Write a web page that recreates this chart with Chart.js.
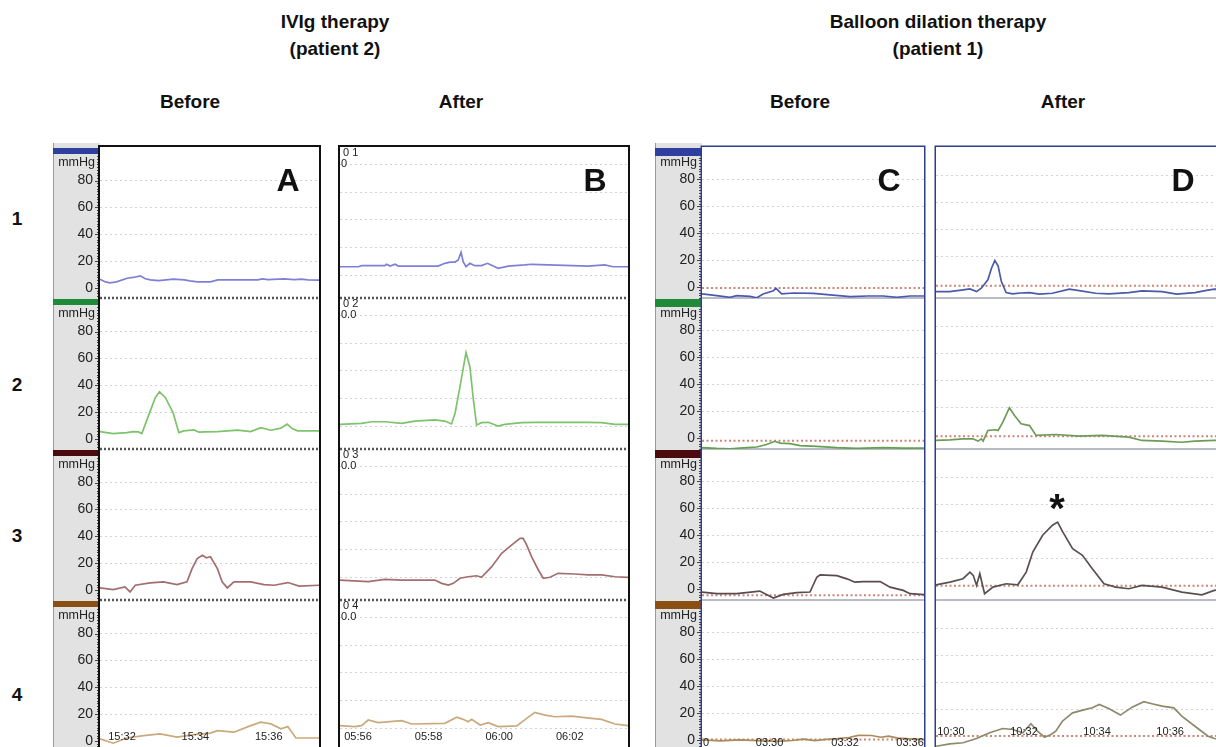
<!DOCTYPE html>
<html>
<head>
<meta charset="utf-8">
<script src="https://cdn.jsdelivr.net/npm/chart.js@4/dist/chart.umd.min.js"></script>
<style>
  body { margin: 0; width: 1216px; height: 747px; overflow: hidden; background: #fff; position: relative;
         font-family: "Liberation Sans", Arial, sans-serif; }
  .t { position: absolute; font-weight: bold; font-size: 19px; color: #111; white-space: nowrap; transform: translate(-50%, -50%); }
  .big { font-size: 32px; }
  .star { font-size: 40px; }
  canvas { position: absolute; }
</style>
</head>
<body>
<div class="t" style="left:335px;top:22px">IVIg therapy</div>
<div class="t" style="left:335px;top:49px">(patient 2)</div>
<div class="t" style="left:938px;top:22px">Balloon dilation therapy</div>
<div class="t" style="left:938px;top:49px">(patient 1)</div>
<div class="t" style="left:190px;top:102px">Before</div>
<div class="t" style="left:461px;top:102px">After</div>
<div class="t" style="left:800px;top:102px">Before</div>
<div class="t" style="left:1063px;top:102px">After</div>
<div class="t" style="left:17px;top:219px">1</div>
<div class="t" style="left:17px;top:385px">2</div>
<div class="t" style="left:17px;top:536px">3</div>
<div class="t" style="left:17px;top:695px">4</div>

<canvas id="panelA" width="270" height="614" style="left:52px;top:141px"></canvas>
<canvas id="panelB" width="294" height="614" style="left:337px;top:141px"></canvas>
<canvas id="panelC" width="273" height="614" style="left:654px;top:141px"></canvas>
<canvas id="panelD" width="300" height="614" style="left:933px;top:141px"></canvas>

<div class="t big" style="left:288px;top:180px">A</div>
<div class="t big" style="left:595px;top:180px">B</div>
<div class="t big" style="left:889px;top:180px">C</div>
<div class="t big" style="left:1183px;top:180px">D</div>
<div class="t star" style="left:1057px;top:508px">*</div>

<script>
// time in minutes past the hour, pressure in mmHg; one trace per channel (1..4)

// A: IVIg before (15:31 - 15:37)
const aTimeTicks = [32, 34, 36];
const aTimeLabels = ['15:32', '15:34', '15:36'];
const aTrace1 = [[31.40,6.5],[31.55,4.5],[31.67,3.8],[31.85,4.5],[32.14,7.2],[32.30,7.8],[32.50,9.0],[32.62,7.0],[32.77,6.0],[33.0,5.5],[33.40,6.5],[33.7,6.0],[33.85,5.2],[34.06,4.5],[34.41,4.5],[34.61,6.0],[35.2,6.0],[35.70,6.0],[35.82,6.8],[35.98,6.2],[36.41,6.8],[36.7,6.2],[36.9,6.6],[37.07,6.0],[37.37,5.8]];
const aTrace2 = [[31.40,5.5],[31.76,4.0],[32.13,4.7],[32.30,5.5],[32.45,5.2],[32.54,4.0],[32.72,17.2],[32.91,30.9],[33.02,35.1],[33.18,30.9],[33.39,19.7],[33.55,4.7],[33.68,6.0],[33.96,6.7],[34.10,5.0],[34.23,5.2],[34.60,5.5],[35.15,6.5],[35.51,5.5],[35.78,8.4],[36.06,6.5],[36.33,8.0],[36.50,11.0],[36.65,7.5],[36.79,6.0],[37.37,6.0]];
const aTrace3 = [[31.40,1.5],[31.76,0.2],[32.08,2.2],[32.22,-1.5],[32.36,3.5],[32.77,5.2],[33.13,6.0],[33.50,4.0],[33.77,6.0],[33.91,15.9],[34.05,23.4],[34.19,25.9],[34.30,24.0],[34.41,24.7],[34.60,15.9],[34.73,6.0],[34.87,1.5],[35.05,6.0],[35.51,6.0],[35.87,4.0],[36.15,3.5],[36.52,5.5],[36.83,2.8],[37.37,3.5]];
const aTrace4 = [[31.40,1.5],[31.76,-1.7],[32.13,2.2],[32.59,4.0],[33.04,5.2],[33.50,2.8],[33.96,4.7],[34.41,5.8],[34.60,7.7],[35.05,6.5],[35.51,11.4],[35.78,14.0],[36.06,12.7],[36.33,9.0],[36.52,10.7],[36.74,2.2],[37.37,2.2]];

// B: IVIg after (05:55 - 06:03)
const bTimeTicks = [56, 58, 60, 62];
const bTimeLabels = ['05:56', '05:58', '06:00', '06:02'];
const bChannelTags = [['0 1', '0'], ['0 2', '0.0'], ['0 3', '0.0'], ['0 4', '0.0']];
const bTrace1 = [[55.49,6.0],[56.01,6.0],[56.10,6.8],[56.76,6.8],[56.81,7.8],[56.91,6.5],[57.05,7.8],[57.14,6.5],[58.27,6.5],[58.46,8.5],[58.61,9.4],[58.75,9.4],[58.84,10.9],[58.92,16.5],[58.98,9.7],[59.06,6.0],[59.17,8.5],[59.31,6.8],[59.50,6.8],[59.67,8.5],[59.97,4.9],[60.26,6.5],[60.73,7.3],[60.92,7.8],[61.39,7.3],[62.52,6.5],[62.99,7.3],[63.23,6.0],[63.65,6.0]];
const bTrace2 = [[55.49,1.2],[56.10,1.9],[56.39,3.1],[56.76,3.1],[57.24,1.9],[57.61,3.6],[58.18,4.4],[58.46,3.6],[58.65,1.5],[58.75,9.2],[58.89,28.6],[59.06,53.3],[59.17,43.1],[59.27,18.9],[59.36,0.7],[59.50,2.4],[59.69,2.7],[59.97,0.0],[60.16,1.2],[60.64,2.4],[61.01,2.7],[62.52,2.7],[62.90,2.4],[63.28,1.2],[63.65,1.2]];
const bTrace3 = [[55.49,-2.2],[56.29,-3.4],[56.76,-1.7],[57.24,-2.2],[58.18,-2.2],[58.37,-4.6],[58.56,-5.8],[58.70,-4.6],[58.89,-0.9],[59.12,0.2],[59.36,0.9],[59.50,-0.2],[59.79,7.5],[60.07,17.2],[60.35,23.2],[60.59,28.1],[60.68,28.1],[60.78,23.2],[60.92,14.7],[61.11,5.1],[61.25,-0.9],[61.44,-0.2],[61.67,2.7],[62.14,2.2],[62.52,1.5],[62.90,1.5],[63.28,0.2],[63.65,-0.2]];
const bTrace4 = [[55.49,1.7],[55.91,1.0],[56.10,1.7],[56.29,5.8],[56.57,3.9],[57.24,5.3],[57.52,2.9],[58.46,3.4],[58.80,7.8],[58.98,6.3],[59.12,4.6],[59.22,6.3],[59.46,2.2],[59.69,3.9],[59.97,1.0],[60.50,1.5],[60.78,7.0],[61.01,11.4],[61.30,9.4],[61.58,8.2],[62.05,8.7],[62.62,7.0],[62.90,6.3],[63.28,2.9],[63.65,1.7]];

// C: balloon before (03:28 - 03:34)
const cTimeTicks = [28.32, 30, 32, 33.72];
const cTimeLabels = ['0', '03:30', '03:32', '03:36'];
const cBaseline = [-0.6, -1.8, -4.5, 0.5];
const cTrace1 = [[28.21,-5.0],[28.60,-6.3],[28.95,-7.5],[29.13,-6.3],[29.48,-6.8],[29.66,-7.8],[29.83,-5.0],[30.10,-2.6],[30.17,-0.9],[30.32,-5.0],[30.63,-4.3],[31.16,-4.6],[31.60,-5.7],[32.13,-7.0],[32.6,-6.5],[33.01,-6.5],[33.37,-7.5],[33.72,-6.5],[34.09,-6.5]];
const cTrace2 = [[28.21,-7.0],[28.60,-7.6],[28.95,-7.8],[29.30,-7.2],[29.66,-6.5],[29.92,-4.7],[30.14,-2.3],[30.28,-3.6],[30.54,-4.0],[30.81,-5.5],[31.25,-6.0],[31.78,-7.0],[32.31,-7.6],[33.01,-7.0],[33.54,-7.4],[34.09,-7.4]];
const cTrace3 = [[28.21,-2.1],[28.60,-3.3],[29.13,-3.3],[29.74,-1.4],[30.10,-6.5],[30.36,-3.8],[30.72,-2.6],[31.07,-2.1],[31.25,8.9],[31.34,10.7],[31.78,10.1],[32.05,7.7],[32.26,5.2],[32.48,5.7],[32.93,5.7],[33.19,1.5],[33.54,-0.9],[33.72,-3.3],[34.09,-4.0]];
const cTrace4 = [[28.21,0.3],[28.7,-0.5],[29.2,0.2],[29.7,-0.3],[30.2,-0.8],[30.6,-0.2],[30.9,0.8],[31.2,-0.3],[31.5,0.6],[31.8,1.2],[32.1,2.0],[32.35,3.6],[32.7,3.5],[32.95,2.2],[33.15,3.0],[33.4,1.5],[33.7,1.0],[34.09,0.5]];

// D: balloon after (10:29 - 10:37)
const dTimeTicks = [30, 32, 34, 36];
const dTimeLabels = ['10:30', '10:32', '10:34', '10:36'];
const dBaseline = [-1.5, -1.0, 0, 0.5];
const dTrace1 = [[29.59,-5.8],[29.97,-5.8],[30.33,-4.5],[30.52,-3.8],[30.70,-5.8],[30.83,-3.3],[30.92,-0.1],[31.01,2.9],[31.11,11.5],[31.20,17.2],[31.29,13.2],[31.38,1.6],[31.51,-6.5],[31.69,-7.5],[31.9,-6.8],[32.15,-6.5],[32.42,-7.7],[32.78,-7.0],[33.24,-4.0],[33.51,-5.0],[33.96,-7.0],[34.32,-7.5],[34.87,-6.5],[35.23,-5.2],[35.78,-5.8],[36.18,-7.7],[36.68,-6.5],[36.96,-5.0],[37.21,-4.0],[37.64,-4.5]];
const dTrace2 = [[29.59,-4.2],[29.97,-3.7],[30.33,-3.0],[30.60,-3.0],[30.74,-4.7],[30.83,-3.0],[30.88,-4.7],[31.01,3.2],[31.20,3.7],[31.29,3.2],[31.42,9.3],[31.60,20.0],[31.74,14.3],[31.92,8.1],[32.15,6.8],[32.33,-0.5],[32.87,0.2],[33.51,-1.0],[34.14,-0.5],[34.87,-1.8],[35.23,-4.2],[35.78,-4.7],[36.32,-5.5],[36.68,-4.7],[37.21,-4.2],[37.64,-4.2]];
const dTrace3 = [[29.59,0.7],[29.97,2.7],[30.33,5.2],[30.52,10.1],[30.61,7.7],[30.70,0.3],[30.79,8.9],[30.92,-5.9],[31.15,-1.0],[31.51,1.5],[31.83,0.7],[32.06,10.1],[32.24,24.9],[32.51,37.3],[32.78,44.7],[32.92,47.0],[33.06,39.8],[33.33,27.4],[33.60,22.5],[33.87,12.6],[34.19,1.5],[34.51,-1.0],[34.87,-2.2],[35.23,0.3],[35.78,-1.0],[36.32,-4.7],[36.87,-6.7],[37.21,-3.4],[37.64,-2.0]];
const dTrace4 = [[29.59,-7.0],[29.97,-5.2],[30.33,-4.4],[30.70,-1.3],[31.06,3.0],[31.42,6.1],[31.69,5.4],[31.97,3.0],[32.19,9.6],[32.37,4.1],[32.56,-0.3],[32.74,1.7],[32.87,4.1],[33.05,11.5],[33.33,17.7],[33.69,20.2],[33.87,21.4],[34.06,23.9],[34.32,20.9],[34.64,16.0],[34.96,21.9],[35.28,25.9],[35.50,24.4],[35.78,22.6],[36.10,21.4],[36.32,15.2],[36.68,7.8],[37.04,0.4],[37.21,-1.3],[37.64,-3.0]];

const gridValues = [0, 20, 40, 60, 80];
const FONT = '"Liberation Sans", Arial, sans-serif';
Chart.defaults.font.family = FONT;

function decor(p) {
  return {
    id: 'decor',
    beforeDraw(chart) {
      const ctx = chart.ctx, ca = chart.chartArea;
      if (!p.strip) return;
      const s = chart.scales.y0;
      ctx.save();
      ctx.fillStyle = '#e2e2e2';
      ctx.fillRect(s.left, ca.top - 4, s.right - s.left, chart.height);
      ctx.fillStyle = '#9a9a9a';
      ctx.fillRect(s.left, ca.top - 4, 1, chart.height);
      ctx.restore();
    },
    beforeDatasetsDraw(chart) {
      const ctx = chart.ctx, ca = chart.chartArea;
      ctx.save();
      for (let r = 0; r < 4; r++) {
        const s = chart.scales['y' + r];
        if (p.sepDash) {
          if (r === 3) continue;
          ctx.setLineDash([2, 2]);
          ctx.lineWidth = 2.5;
          ctx.strokeStyle = '#555';
        } else {
          ctx.setLineDash([]);
          ctx.lineWidth = 2;
          ctx.strokeStyle = '#b9bcc6';
        }
        ctx.beginPath();
        ctx.moveTo(ca.left, s.bottom);
        ctx.lineTo(ca.right, s.bottom);
        ctx.stroke();
      }
      ctx.restore();
    },
    afterDraw(chart) {
      const ctx = chart.ctx, ca = chart.chartArea;
      ctx.save();
      for (let r = 0; r < 4; r++) {
        const s = chart.scales['y' + r];
        if (p.strip) {
          ctx.fillStyle = p.bars[r];
          ctx.fillRect(s.left, s.top + 1, ca.left - s.left, p.barH);
          ctx.strokeStyle = '#444';
          ctx.lineWidth = 1;
          for (let v = Math.ceil(s.min / 2) * 2; v <= s.max; v += 2) {
            const y = Math.round(s.getPixelForValue(v)) + 0.5;
            if (y < s.top + p.barH + 2) continue;
            ctx.beginPath();
            ctx.moveTo(s.right - (v % 20 === 0 ? 5 : 3), y);
            ctx.lineTo(s.right, y);
            ctx.stroke();
          }
          ctx.fillStyle = '#222';
          ctx.font = '12.5px ' + FONT;
          ctx.textAlign = 'right';
          ctx.textBaseline = 'middle';
          ctx.fillText('mmHg', s.right - 5, s.top + 16);
        }
        if (p.tags) {
          ctx.fillStyle = '#222';
          ctx.font = '11px ' + FONT;
          ctx.textAlign = 'left';
          ctx.textBaseline = 'middle';
          ctx.fillText(p.tags[r][0], ca.left + 3, s.top + 6);
          ctx.fillText(p.tags[r][1], ca.left + 1, s.top + 17);
        }
      }
      // time labels along the bottom channel
      const x = chart.scales.x;
      ctx.fillStyle = '#222';
      ctx.font = '11px ' + FONT;
      ctx.textAlign = 'center';
      ctx.textBaseline = 'middle';
      p.timeTicks.forEach((t, i) => ctx.fillText(p.timeLabels[i], x.getPixelForValue(t), ca.bottom - p.labelRise));
      // panel frame
      ctx.strokeStyle = p.frame;
      ctx.lineWidth = p.frameW;
      ctx.strokeRect(ca.left - p.frameW / 2, ca.top - p.frameW / 2, ca.right - ca.left + p.frameW, ca.bottom - ca.top + p.frameW);
      ctx.restore();
    }
  };
}

function panelChart(id, p) {
  const scales = { x: { type: 'linear', min: p.tMin, max: p.tMax, display: false } };
  const datasets = [];
  p.traces.forEach((tr, r) => {
    scales['y' + r] = {
      type: 'linear', position: 'left', stack: 'rows', stackWeight: 1, weight: 10 - r,
      min: p.yMin, max: p.yMax,
      afterBuildTicks: s => { s.ticks = gridValues.map(v => ({ value: v })); },
      afterFit: s => { s.width = p.strip ? 47 : 0; s.paddingTop = 0; s.paddingBottom = 0; },
      ticks: { display: p.strip, autoSkip: false, font: { size: 14 }, color: '#222', padding: 7 },
      grid: {
        drawTicks: false, lineWidth: 1,
        color: c => (c.tick && c.tick.value === 0 && p.hideZero) ? 'rgba(0,0,0,0)' : '#d2d2d2'
      },
      border: { display: false, dash: [2, 3] }
    };
    datasets.push({
      data: tr.map(([t, v]) => ({ x: t, y: v })),
      yAxisID: 'y' + r, borderColor: p.colors[r], borderWidth: 1.7,
      pointRadius: 0, tension: 0
    });
  });
  if (p.baseline) {
    p.baseline.forEach((b, r) => datasets.push({
      data: [{ x: p.tMin, y: b }, { x: p.tMax, y: b }],
      yAxisID: 'y' + r, borderColor: '#cf8677', borderWidth: 2, borderDash: [2, 2.5],
      pointRadius: 0
    }));
  }
  return new Chart(document.getElementById(id), {
    type: 'line',
    data: { datasets },
    options: {
      responsive: false, animation: false, events: [],
      layout: { padding: p.pad },
      plugins: { legend: { display: false }, tooltip: { enabled: false } },
      scales
    },
    plugins: [decor(p)]
  });
}

const blueBars = ['#2e3f9e', '#1f8a3a', '#4a0a0e', '#8a4f12'];

panelChart('panelA', {
  tMin: 31.40, tMax: 37.37, yMin: -7.5, yMax: 105,
  traces: [aTrace1, aTrace2, aTrace3, aTrace4],
  colors: ['#7e80d6', '#7dc36b', '#a46e6e', '#c9aa7c'],
  timeTicks: aTimeTicks, timeLabels: aTimeLabels, labelRise: 14,
  strip: true, bars: blueBars, barH: 6, hideZero: true, sepDash: true,
  frame: '#111', frameW: 2, pad: { left: 1, top: 6, right: 3, bottom: 4 }
});

panelChart('panelB', {
  tMin: 55.49, tMax: 63.65, yMin: -16.7, yMax: 93,
  traces: [bTrace1, bTrace2, bTrace3, bTrace4],
  colors: ['#7e80d6', '#7dc36b', '#a46e6e', '#c9aa7c'],
  timeTicks: bTimeTicks, timeLabels: bTimeLabels, labelRise: 14,
  strip: false, tags: bChannelTags, hideZero: false, sepDash: true,
  frame: '#111', frameW: 2, pad: { left: 3, top: 6, right: 3, bottom: 4 }
});

panelChart('panelC', {
  tMin: 28.21, tMax: 34.09, yMin: -8, yMax: 104,
  traces: [cTrace1, cTrace2, cTrace3, cTrace4],
  colors: ['#4d57b0', '#64a052', '#5b4a4f', '#a88c5a'],
  baseline: cBaseline,
  timeTicks: cTimeTicks, timeLabels: cTimeLabels, labelRise: 8,
  strip: true, bars: blueBars, barH: 8, hideZero: true, sepDash: false,
  frame: '#2c3e8c', frameW: 1.5, pad: { left: 1, top: 6, right: 3, bottom: 4 }
});

panelChart('panelD', {
  tMin: 29.59, tMax: 37.64, yMin: -10.5, yMax: 101,
  traces: [dTrace1, dTrace2, dTrace3, dTrace4],
  colors: ['#4a5aa8', '#6e9a58', '#5a5050', '#8c8a6a'],
  baseline: dBaseline,
  timeTicks: dTimeTicks, timeLabels: dTimeLabels, labelRise: 19,
  strip: false, hideZero: true, sepDash: false,
  frame: '#2c3e8c', frameW: 1.5, pad: { left: 3, top: 6, right: 3, bottom: 4 }
});
</script>
</body>
</html>
